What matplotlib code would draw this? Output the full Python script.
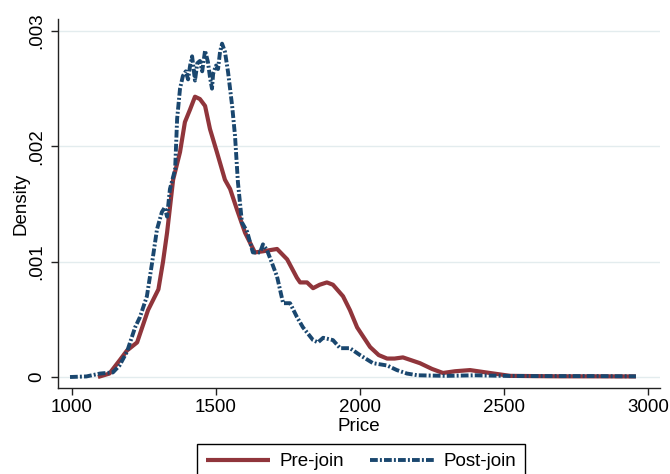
import matplotlib
matplotlib.use("Agg")
import matplotlib.pyplot as plt

plt.rcParams["font.family"] = ["Liberation Sans", "DejaVu Sans"]

# Kernel density estimates of price, before and after joining
pre_price = [1090, 1130, 1167, 1191, 1226, 1264, 1300, 1316, 1330, 1351, 1375, 1392,
             1410, 1427, 1444, 1462, 1479, 1503, 1531, 1549, 1573, 1601, 1635, 1663,
             1712, 1747, 1781, 1792, 1816, 1837, 1860, 1885, 1906, 1941, 1965, 1990,
             2035, 2065, 2094, 2120, 2149, 2208, 2250, 2288, 2330, 2382, 2451, 2521,
             2600, 2700, 2800, 2958]
pre_density = [0.0, 0.03, 0.15, 0.23, 0.30, 0.58, 0.76, 1.00, 1.25, 1.71, 1.95, 2.21,
               2.32, 2.43, 2.41, 2.35, 2.15, 1.95, 1.71, 1.63, 1.45, 1.25, 1.08, 1.09,
               1.11, 1.02, 0.86, 0.82, 0.82, 0.77, 0.80, 0.82, 0.80, 0.70, 0.58, 0.43,
               0.26, 0.19, 0.16, 0.16, 0.17, 0.12, 0.07, 0.035, 0.05, 0.06, 0.035, 0.01,
               0.008, 0.006, 0.006, 0.005]

post_price = [993, 1050, 1097, 1142, 1165, 1191, 1219, 1236, 1260, 1278, 1295, 1312,
              1322, 1330, 1340, 1358, 1365, 1375, 1385, 1395, 1403, 1410, 1417, 1427,
              1435, 1444, 1452, 1462, 1472, 1479, 1486, 1490, 1500, 1507, 1514, 1521,
              1531, 1542, 1556, 1566, 1576, 1590, 1608, 1628, 1653, 1663, 1677, 1694,
              1712, 1722, 1733, 1757, 1781, 1802, 1837, 1854, 1872, 1906, 1931, 1965,
              2000, 2045, 2094, 2128, 2163, 2200, 2300, 2400, 2500, 2600, 2800, 2958]
post_density = [0.0, 0.005, 0.03, 0.04, 0.10, 0.22, 0.43, 0.52, 0.70, 0.99, 1.28, 1.43,
                1.47, 1.39, 1.63, 1.80, 2.24, 2.50, 2.61, 2.65, 2.58, 2.70, 2.78, 2.57,
                2.72, 2.74, 2.65, 2.83, 2.73, 2.60, 2.50, 2.63, 2.70, 2.67, 2.82, 2.89,
                2.82, 2.64, 2.35, 2.09, 1.69, 1.34, 1.26, 1.08, 1.08, 1.15, 1.10, 0.99,
                0.87, 0.76, 0.64, 0.64, 0.52, 0.43, 0.32, 0.30, 0.34, 0.32, 0.25, 0.25,
                0.19, 0.12, 0.10, 0.06, 0.03, 0.015, 0.01, 0.015, 0.01, 0.008, 0.008, 0.006]

x_ticks = [1000, 1500, 2000, 2500, 3000]
y_ticks = [0.0, 0.001, 0.002, 0.003]
y_tick_labels = ["0", ".001", ".002", ".003"]
series_labels = ["Pre-join", "Post-join"]

scale = 1e-3
pre_y = [d * scale for d in pre_density]
post_y = [d * scale for d in post_density]

fig = plt.figure(figsize=(6.7, 4.74), dpi=100)
ax = fig.add_axes([0.0866, 0.1814, 0.8985, 0.7786])

red = "#90353B"
navy = "#1A476F"
fs = 13.5

ax.plot(pre_price, pre_y, color=red, lw=3.0, solid_capstyle="butt",
        solid_joinstyle="round", label=series_labels[0], zorder=3)
ax.plot(post_price, post_y, color=navy, lw=2.8,
        linestyle=(0, (2.0, 0.55, 0.5, 0.55)), label=series_labels[1], zorder=4)

ax.set_xlim(951.4, 3041.7)
ax.set_ylim(-0.0000954, 0.003104)

ax.set_xticks(x_ticks)
ax.set_xticklabels([str(t) for t in x_ticks])
ax.set_yticks(y_ticks)
ax.set_yticklabels(y_tick_labels, rotation=90, va="center")

ax.grid(axis="y", color="#E3ECEE", lw=1.0, zorder=0)
ax.set_axisbelow(True)

for side in ("top", "right"):
    ax.spines[side].set_visible(False)
for side in ("left", "bottom"):
    ax.spines[side].set_color("#222222")
    ax.spines[side].set_linewidth(1.0)

ax.tick_params(axis="both", direction="out", length=5, width=1.0,
               labelsize=fs, colors="#222222", labelcolor="black")
ax.tick_params(axis="x", pad=3)
ax.tick_params(axis="y", pad=4)

ax.set_xlabel("Price", fontsize=fs, labelpad=1)
ax.set_ylabel("Density", fontsize=fs, labelpad=-0.5)

leg = fig.legend(loc="upper center", bbox_to_anchor=(0.539, 0.0633),
                 ncol=2, fontsize=fs, frameon=True, fancybox=False,
                 edgecolor="black", framealpha=1, borderaxespad=0,
                 handlelength=3.4, handletextpad=0.5, columnspacing=1.4,
                 borderpad=0.5)
leg.get_frame().set_linewidth(1.0)

fig.savefig("out.png", dpi=100)
